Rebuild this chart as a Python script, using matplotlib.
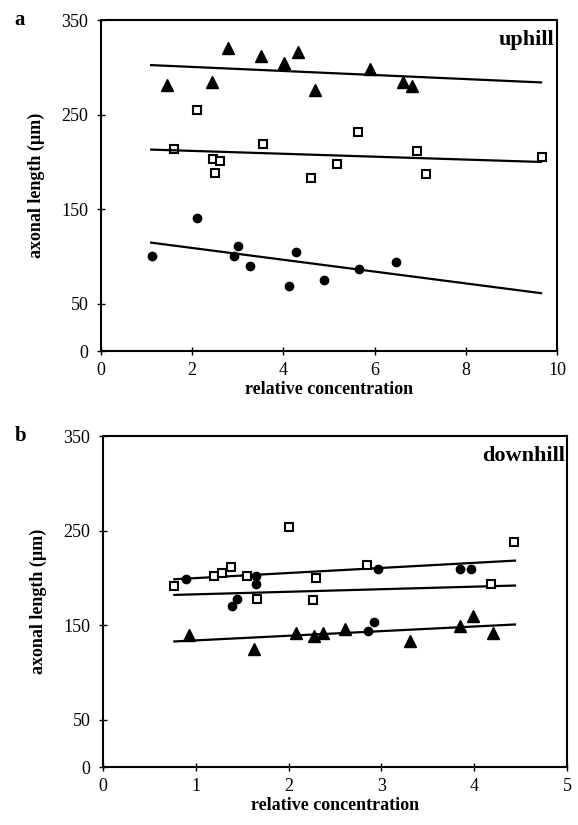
import numpy as np
import matplotlib.pyplot as plt

plt.rcParams['font.family'] = ['Liberation Serif', 'DejaVu Serif']

# panel a, uphill
up_tri_x = [1.44, 2.43, 2.78, 3.50, 4.01, 4.33, 4.69, 5.91, 6.62, 6.81]
up_tri_y = [281, 285, 320, 312, 305, 316, 276, 298, 284, 280]
up_sq_x = [1.60, 2.11, 2.46, 2.62, 2.50, 3.55, 4.61, 5.17, 5.63, 6.92, 7.12, 9.66]
up_sq_y = [214, 255, 203, 201, 188, 219, 183, 198, 232, 212, 187, 205]
up_ci_x = [1.12, 2.11, 2.92, 3.01, 3.26, 4.13, 4.28, 4.88, 5.66, 6.48]
up_ci_y = [100, 141, 100, 111, 90, 69, 105, 75, 87, 94]
# fitted lines: (intercept, slope)
up_fits = {"tri": (304.7, -2.14), "sq": (214.7, -1.53), "ci": (121.5, -6.25)}
up_line_x = [1.1, 9.65]

# panel b, downhill
dn_sq_x = [0.77, 1.20, 1.28, 1.38, 1.55, 1.66, 2.00, 2.26, 2.30, 2.84, 4.18, 4.43]
dn_sq_y = [191, 202, 205, 211, 202, 178, 254, 177, 200, 214, 194, 238]
dn_ci_x = [0.90, 1.39, 1.45, 1.65, 1.65, 2.86, 2.92, 2.96, 3.85, 3.97]
dn_ci_y = [199, 170, 178, 202, 193, 144, 153, 209, 209, 209]
dn_tri_x = [0.93, 1.63, 2.08, 2.27, 2.37, 2.61, 3.31, 3.85, 3.99, 4.20]
dn_tri_y = [140, 125, 142, 139, 142, 146, 133, 149, 160, 142]
dn_fits = {"sq": (194.4, 5.37), "ci": (179.9, 2.70), "tri": (129.0, 4.89)}
dn_line_x = [0.77, 4.44]

yticks = [0, 50, 150, 250, 350]

fig = plt.figure(figsize=(5.78, 8.25), dpi=100)
ax1 = fig.add_axes([0.1747, 0.5745, 0.789, 0.4012])
ax2 = fig.add_axes([0.178, 0.0703, 0.803, 0.4012])


def style(ax, xmax, xticks, tag, name):
    ax.set_xlim(0, xmax)
    ax.set_ylim(0, 350)
    ax.set_xticks(xticks)
    ax.set_yticks(yticks)
    ax.tick_params(direction='inout', length=6, width=1, labelsize=13)
    ax.tick_params(axis='x', pad=5)
    ax.tick_params(axis='y', pad=6)
    for s in ax.spines.values():
        s.set_linewidth(1.5)
    ax.set_xlabel("relative concentration", fontsize=13, fontweight='bold', labelpad=1)
    ax.set_ylabel("axonal length (µm)", fontsize=13, fontweight='bold', labelpad=12)
    ax.text(0.995, 0.97, name, transform=ax.transAxes, ha='right', va='top',
            fontsize=16, fontweight='bold')
    ax.text(-0.19, 1.0, tag, transform=ax.transAxes, ha='left', va='center',
            fontsize=15, fontweight='bold')


def fitline(ax, xs, fit):
    xs = np.array(xs)
    ax.plot(xs, fit[0] + fit[1] * xs, color='black', lw=1.6)


# panel a
ax1.plot(up_tri_x, up_tri_y, '^', color='black', ms=8.5, ls='none')
ax1.plot(up_sq_x, up_sq_y, 's', mfc='white', mec='black', mew=1.5, ms=5.5, ls='none')
ax1.plot(up_ci_x, up_ci_y, 'o', color='black', ms=6, ls='none')
for k in ["tri", "sq", "ci"]:
    fitline(ax1, up_line_x, up_fits[k])
style(ax1, 10, [0, 2, 4, 6, 8, 10], "a", "uphill")

# panel b
for k in ["sq", "ci", "tri"]:
    fitline(ax2, dn_line_x, dn_fits[k])
ax2.plot(dn_sq_x, dn_sq_y, 's', mfc='white', mec='black', mew=1.5, ms=5.5, ls='none')
ax2.plot(dn_ci_x, dn_ci_y, 'o', color='black', ms=6, ls='none')
ax2.plot(dn_tri_x, dn_tri_y, '^', color='black', ms=8.5, ls='none')
style(ax2, 5, [0, 1, 2, 3, 4, 5], "b", "downhill")

fig.savefig("out.png", dpi=100)
